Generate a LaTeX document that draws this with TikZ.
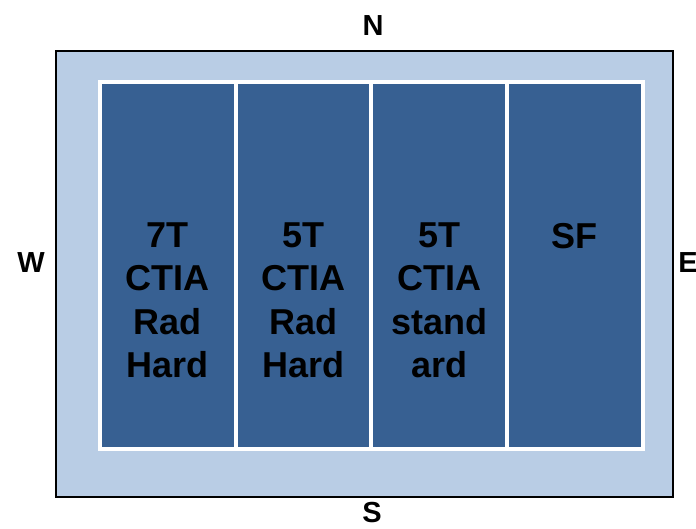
\documentclass[tikz,border=0pt]{standalone}
\usepackage{fontspec}
\setmainfont{Liberation Sans}
\definecolor{fieldlight}{HTML}{B9CDE5}
\definecolor{fielddark}{HTML}{376092}
\begin{document}
\begin{tikzpicture}[x=1pt,y=-1pt,
  frame/.style={draw=black,line width=2pt,fill=fieldlight},
  zone/.style={draw=white,line width=4pt,fill=fielddark,minimum width=135.6pt,
    minimum height=366.4pt,inner sep=0pt,outer sep=0pt},
  zonetext/.style={anchor=north,inner sep=0pt,align=center,
    font=\fontsize{36}{43.2}\selectfont\bfseries},
  compass/.style={inner sep=0pt,font=\fontsize{29}{34}\selectfont\bfseries}]
  \useasboundingbox (0,0) rectangle (696,529);
  % outer field
  \node[frame,minimum width=617pt,minimum height=446pt,inner sep=0pt,anchor=north west]
    (field) at (55,50) {};
  % four zones
  \node[zone] (z1) at (167.9,265.5) {};
  \node[zone] (z2) at (303.5,265.5) {};
  \node[zone] (z3) at (439.1,265.5) {};
  \node[zone] (z4) at (574.7,265.5) {};
  % zone labels
  \node[zonetext] (t1) at ([yshift=-140.4pt]z1.north) {7T\\CTIA\\Rad\\Hard};
  \node[zonetext] (t2) at ([yshift=-140.4pt]z2.north) {5T\\CTIA\\Rad\\Hard};
  \node[zonetext] (t3) at ([yshift=-140.4pt]z3.north) {5T\\CTIA\\stand\\ard};
  \node[zonetext] (t4) at ([yshift=-140.4pt]z4.north) {SF};
  % compass labels
  \node[compass] (n) at (373,26) {N};
  \node[compass] (s) at (372,513) {S};
  \node[compass] (w) at (31,263) {W};
  \node[compass] (e) at (688,263) {E};
\end{tikzpicture}
\end{document}
